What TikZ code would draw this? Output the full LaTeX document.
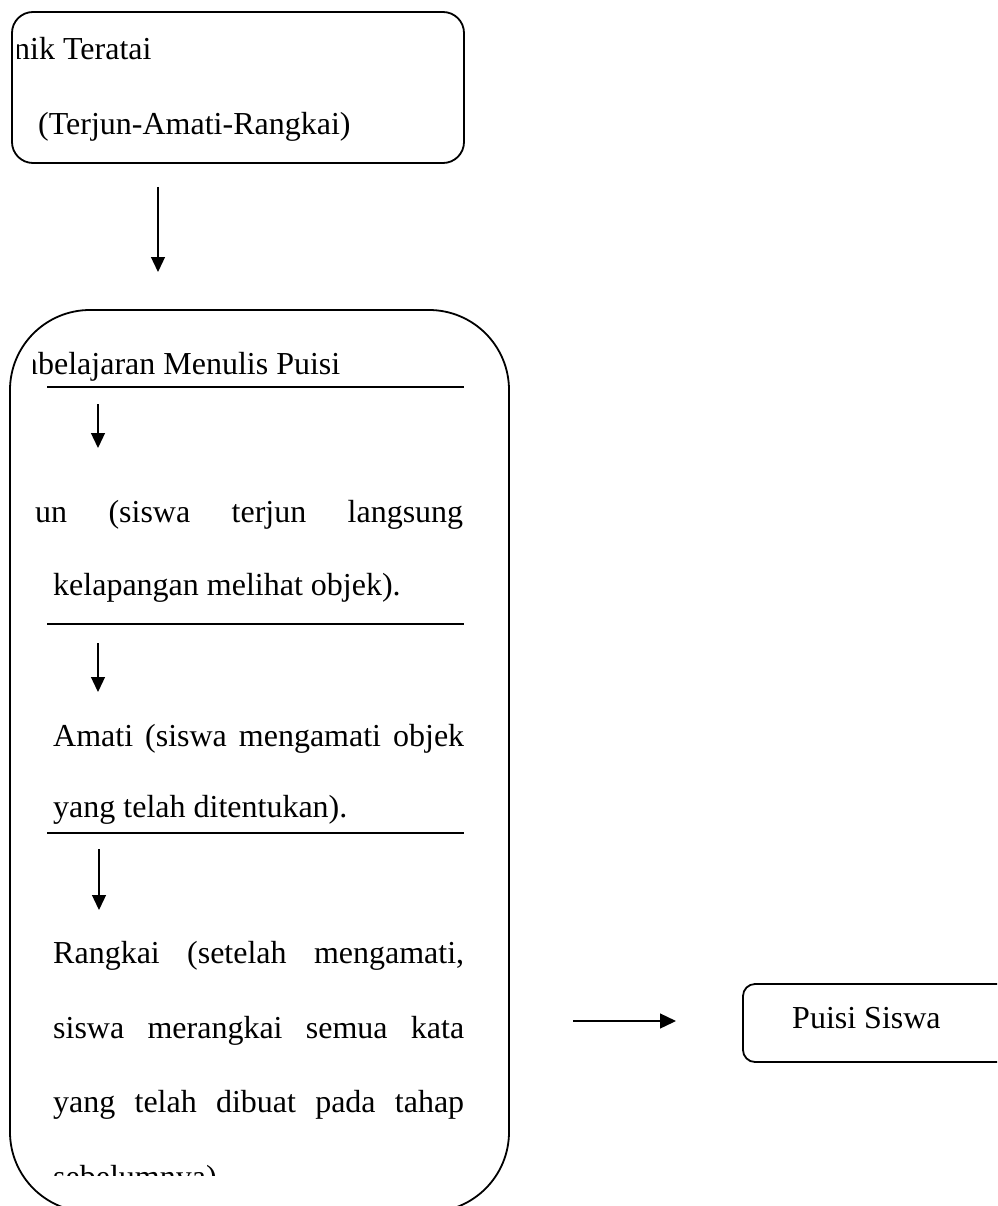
\documentclass[tikz,border=0pt]{standalone}
\usepackage{fontspec}
\setmainfont{Liberation Serif}
\usetikzlibrary{arrows.meta}
\tikzset{
  box/.style={draw, line width=1.8pt, rounded corners=#1, inner sep=0pt},
  txt/.style={anchor=base west, inner sep=0pt, font=\fontsize{32}{38}\selectfont},
  arr/.style={line width=1.3pt, -{Triangle[length=15pt,width=14pt]}},
  sepline/.style={line width=1.8pt}
}
\begin{document}
\begin{tikzpicture}[x=1pt,y=-1pt]
\useasboundingbox (0,0) rectangle (997,1206);
\clip (0,0) rectangle (997,1206);

% top box
\node[box=21pt, minimum width=452pt, minimum height=151pt] (top) at (238,87.5) {};
\begin{scope}
  \clip (17,12) rectangle (464,163);
  \node[txt] (t1) at (14,60) {nik Teratai};
\end{scope}
\node[txt] (t2) at (38,135) {(Terjun-Amati-Rangkai)};

% arrow top -> main
\coordinate (a1s) at (158,187);
\coordinate (a1e) at (158,272);
\draw[arr] (a1s) -- (a1e);

% main box
\node[box=80pt, minimum width=499pt, minimum height=902pt] (main) at (259.5,761) {};
\begin{scope}
  \clip (33,320) rectangle (500,1175);
  \node[txt] (p0) at (13,374) {mbelajaran Menulis Puisi};
  \node[txt] (p1) at (35,522) {\makebox[428pt][s]{un (siswa terjun langsung}};
  \node[txt] (p2) at (53,595) {kelapangan melihat objek).};
  \node[txt] (p3) at (53,746) {\makebox[411pt][s]{Amati (siswa mengamati objek}};
  \node[txt] (p4) at (53,817) {yang telah ditentukan).};
  \node[txt] (p5) at (53,963) {\makebox[411pt][s]{Rangkai (setelah mengamati,}};
  \node[txt] (p6) at (53,1038) {\makebox[411pt][s]{siswa merangkai semua kata}};
  \node[txt] (p7) at (53,1112) {\makebox[411pt][s]{yang telah dibuat pada tahap}};
  \node[txt] (p8) at (53,1187) {sebelumnya).};
\end{scope}

% separator lines
\coordinate (s1a) at (47,387);  \coordinate (s1b) at (464,387);
\coordinate (s2a) at (47,624);  \coordinate (s2b) at (464,624);
\coordinate (s3a) at (47,833);  \coordinate (s3b) at (464,833);
\draw[sepline] (s1a) -- (s1b);
\draw[sepline] (s2a) -- (s2b);
\draw[sepline] (s3a) -- (s3b);

% inner arrows
\coordinate (b1s) at (98,404); \coordinate (b1e) at (98,448);
\coordinate (b2s) at (98,643); \coordinate (b2e) at (98,692);
\coordinate (b3s) at (99,849); \coordinate (b3e) at (99,910);
\draw[arr] (b1s) -- (b1e);
\draw[arr] (b2s) -- (b2e);
\draw[arr] (b3s) -- (b3e);

% result box
\node[box=12pt, minimum width=267pt, minimum height=78pt] (res) at (876.5,1023) {};
\node[txt] (rt) at (792,1028) {Puisi Siswa};

% horizontal arrow
\coordinate (c1s) at (573,1021);
\coordinate (c1e) at (676,1021);
\draw[arr, -{Triangle[length=16pt,width=15pt]}] (c1s) -- (c1e);
\end{tikzpicture}
\end{document}
